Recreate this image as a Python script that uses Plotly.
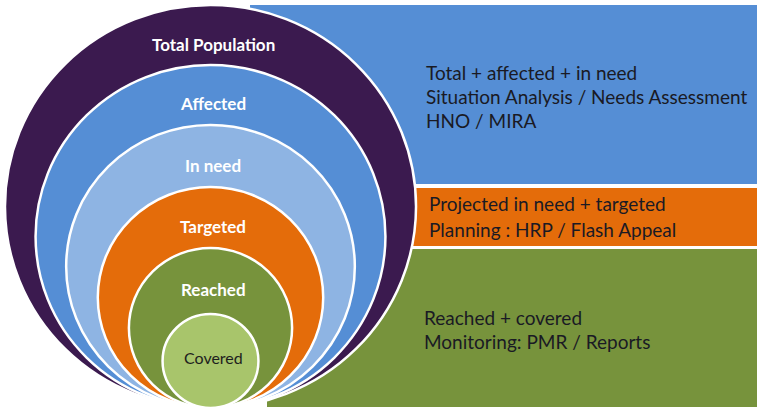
import plotly.graph_objects as go

# ---- data ----
circle_labels = ["Total Population", "Affected", "In need", "Targeted", "Reached", "Covered"]
circle_colors = ["#3B1A4F", "#558ED5", "#8EB4E3", "#E46C0A", "#77933C", "#A8C56B"]
circle_text_colors = ["white", "white", "white", "white", "white", "#1E1E1E"]

band_colors = ["#558ED5", "#E46C0A", "#77933C"]
band_texts = [
    ["Total + affected + in need", "Situation Analysis / Needs Assessment", "HNO / MIRA"],
    ["Projected in need + targeted", "Planning : HRP / Flash Appeal"],
    ["Reached + covered", "Monitoring: PMR / Reports"],
]

# ---- geometry (pixel units) ----
W, H = 757, 407
cx = 210.5
bottom = 408
tops = [5, 65, 125, 187, 248, 314]
label_y = [44, 103, 165, 226, 289, 357]
bands = [(250, 5, 184), (255, 188, 246), (267, 249, 410)]   # x0, y0, y1
text_x = [424, 427, 422]
text_y0 = [72, 203, 317]
line_gap = [24, 26, 24]

shapes = []
for (x0, y0, y1), col in zip(bands, band_colors):
    shapes.append(dict(type="rect", xref="x", yref="y", x0=x0, x1=W + 5, y0=y0, y1=y1,
                       fillcolor=col, line=dict(width=0), layer="below"))

for top, col in zip(tops, circle_colors):
    ry = (bottom - top) / 2
    rx = ry * 1.02
    cy = top + ry
    shapes.append(dict(type="circle", xref="x", yref="y",
                       x0=cx - rx, x1=cx + rx, y0=cy - ry, y1=cy + ry,
                       fillcolor=col, line=dict(color="white", width=2.5), layer="above"))

annotations = []
for lab, y, tc in zip(circle_labels, label_y, circle_text_colors):
    bold = lab != "Covered"
    annotations.append(dict(x=213, y=y, xref="x", yref="y", text=f"<b>{lab}</b>" if bold else lab,
                            showarrow=False, xanchor="center", yanchor="middle",
                            font=dict(family="Lato, Open Sans, sans-serif",
                                      size=17 if bold else 16, color=tc)))

for lines, x, y0, gap in zip(band_texts, text_x, text_y0, line_gap):
    for i, line in enumerate(lines):
        annotations.append(dict(x=x, y=y0 + i * gap, xref="x", yref="y", text=line,
                                showarrow=False, xanchor="left", yanchor="middle",
                                font=dict(family="Lato, Open Sans, sans-serif", size=19, color="#1A1A24")))

fig = go.Figure()
fig.add_trace(go.Scatter(x=[0, W], y=[0, H], mode="markers", marker=dict(opacity=0),
                         hoverinfo="skip", showlegend=False))
fig.update_layout(
    width=W, height=H, margin=dict(l=0, r=0, t=0, b=0),
    paper_bgcolor="white", plot_bgcolor="white",
    xaxis=dict(range=[0, W], visible=False, fixedrange=True),
    yaxis=dict(range=[H, 0], visible=False, fixedrange=True),
    shapes=shapes, annotations=annotations, showlegend=False,
)
fig.write_html("out.html", config={"displayModeBar": False},
               post_script="document.body.style.margin='0';document.body.style.overflow='hidden';")
